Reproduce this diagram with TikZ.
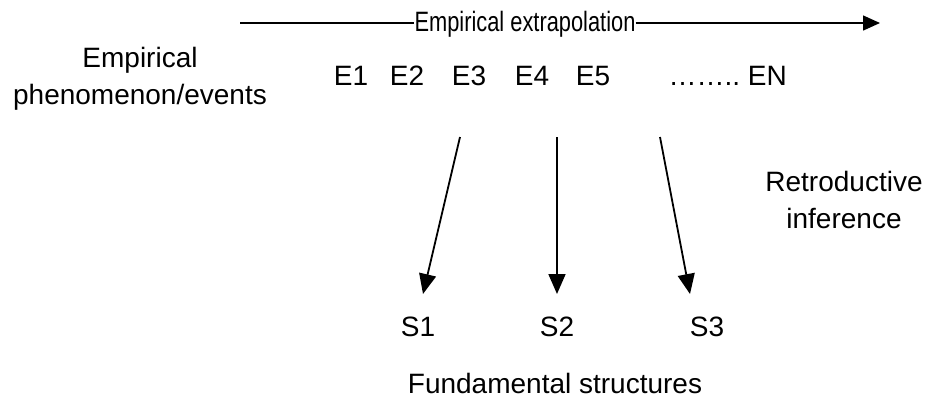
\documentclass[tikz,border=0pt]{standalone}
\usepackage{fontspec}
\setmainfont{Liberation Sans}
\newfontfamily\narrowfont[FakeStretch=0.78]{Liberation Sans}
\usetikzlibrary{arrows.meta, positioning, calc}

\tikzset{
  lbl/.style={inner sep=0pt, font=\fontsize{28}{37}\selectfont, align=center},
  retro/.style={line width=1.8pt, -{Triangle[length=20pt, width=17pt]}}
}

\begin{document}
\begin{tikzpicture}[x=1pt, y=-1pt]
  \useasboundingbox (0,0) rectangle (930,400);

  % top line with its label
  \node[lbl, font=\narrowfont\fontsize{28}{37}\selectfont, anchor=base] (extra) at (525,31) {Empirical extrapolation};
  \coordinate (xstart) at (240,23);
  \coordinate (xend) at (880,23);
  \draw[line width=1.5pt] (xstart) -- (xstart -| extra.west);
  \draw[line width=1.5pt, -{Triangle[length=17pt, width=15pt]}] (xend -| extra.east) -- (xend);

  % events
  \node[lbl] (events) at (140,79) {Empirical\\phenomenon/events};
  \node[lbl, anchor=base] (e1) at (351,85) {E1};
  \node[lbl, anchor=base] (e2) at (407,85) {E2};
  \node[lbl, anchor=base] (e3) at (469,85) {E3};
  \node[lbl, anchor=base] (e4) at (532,85) {E4};
  \node[lbl, anchor=base] (e5) at (593,85) {E5};
  \node[lbl, anchor=base east] (en) at (787,85) {……..\ EN};

  % structures
  \node[lbl, anchor=base] (s1) at (418,336) {S1};
  \node[lbl, anchor=base] (s2) at (557,336) {S2};
  \node[lbl, anchor=base] (s3) at (707,336) {S3};
  \node[lbl, anchor=base] (fund) at (555,393) {Fundamental structures};
  \node[lbl] (retro) at (844,200) {Retroductive\\inference};

  % retroductive arrows
  \coordinate (r1) at (460,137);
  \coordinate (r2) at (557,137);
  \coordinate (r3) at (660,137);
  \coordinate (t1) at (423,294);
  \coordinate (t2) at (557,294);
  \coordinate (t3) at (690,294);
  \draw[retro] (r1) -- (t1);
  \draw[retro] (r2) -- (t2);
  \draw[retro] (r3) -- (t3);
\end{tikzpicture}
\end{document}
